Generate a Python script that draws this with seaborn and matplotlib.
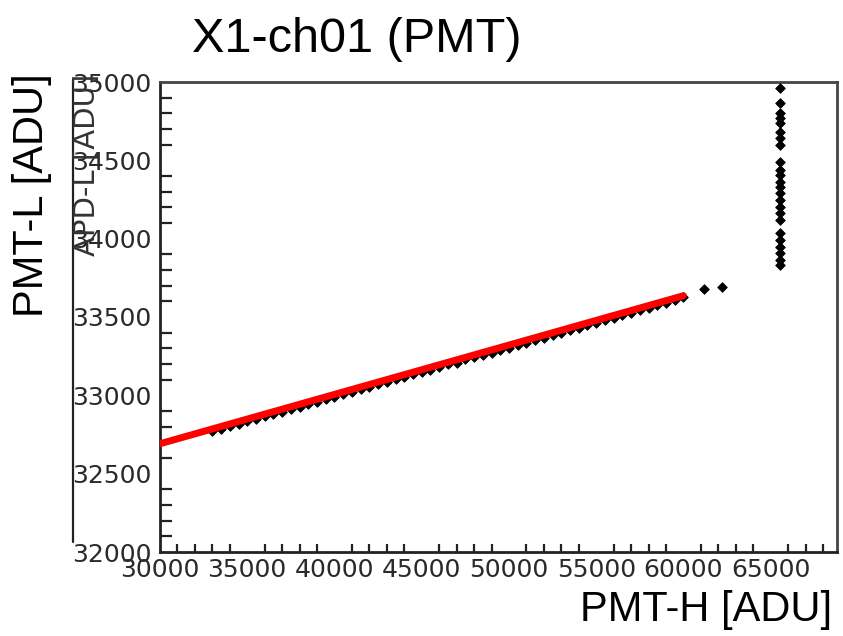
import matplotlib
matplotlib.use("Agg")
import matplotlib.pyplot as plt
from matplotlib.lines import Line2D
from matplotlib.ticker import MultipleLocator
import seaborn as sns
import pandas as pd

# PMT high-gain vs low-gain readout (ADU)
pmt_h = [33000, 33500, 34000, 34500, 35000, 35500, 36000, 36500, 37000, 37500,
         38000, 38500, 39000, 39500, 40000, 40500, 41000, 41500, 42000, 42500,
         43000, 43500, 44000, 44500, 45000, 45500, 46000, 46500, 47000, 47500,
         48000, 48500, 49000, 49500, 50000, 50500, 51000, 51500, 52000, 52500,
         53000, 53500, 54000, 54500, 55000, 55500, 56000, 56500, 57000, 57500,
         58000, 58500, 59000, 59500, 60000, 61200, 62200]
pmt_l = [32772, 32786, 32802, 32814, 32835, 32846, 32866, 32880, 32894, 32915,
         32926, 32944, 32957, 32977, 32990, 33007, 33021, 33041, 33052, 33071,
         33084, 33103, 33114, 33135, 33148, 33164, 33182, 33198, 33209, 33229,
         33243, 33260, 33273, 33292, 33305, 33324, 33336, 33355, 33369, 33386,
         33400, 33419, 33431, 33450, 33462, 33482, 33495, 33512, 33525, 33545,
         33557, 33575, 33589, 33608, 33630, 33676, 33690]

# high-gain channel saturated at 65535
sat_h = 65535
sat_l = [34962, 34866, 34802, 34770, 34738, 34681, 34643, 34598, 34489, 34438,
         34406, 34362, 34330, 34291, 34247, 34202, 34164, 34119, 34036, 33991,
         33947, 33909, 33864, 33832]

# linear fit over the unsaturated range
fit_h = [30000, 60000]
fit_l = [32691, 33636]

points = pd.DataFrame({
    "h": pmt_h + [sat_h] * len(sat_l),
    "l": pmt_l + sat_l,
})
fit = pd.DataFrame({"h": fit_h, "l": fit_l})

sns.set_theme(style="white")
plt.rcParams["font.family"] = ["DejaVu Sans"]

W, H = 843, 636
fig = plt.figure(figsize=(W / 100, H / 100), dpi=100)
ax = fig.add_axes([160 / W, 1 - 552 / H, (837 - 160) / W, (552 - 82) / H])

sns.scatterplot(data=points, x="h", y="l", ax=ax, marker="D", s=24,
                color="black", edgecolor="black", linewidth=0.6, zorder=3)
sns.lineplot(data=fit, x="h", y="l", ax=ax, color="#ff0000", linewidth=5.0,
             zorder=4)

ax.set_xlim(30000, 68800)
ax.set_ylim(32000, 35000)
ax.xaxis.set_major_locator(MultipleLocator(5000))
ax.xaxis.set_minor_locator(MultipleLocator(1000))
ax.yaxis.set_major_locator(MultipleLocator(500))
ax.yaxis.set_minor_locator(MultipleLocator(100))
ax.set_xticks([30000, 35000, 40000, 45000, 50000, 55000, 60000, 65000])
ax.set_xticklabels(["30000", "35000", "40000", "45000", "50000", "55000",
                    "60000", "65000"])

ax.tick_params(axis="y", which="major", direction="in", length=18, width=1.6,
               color="#222222", labelsize=18, labelcolor="#2a2a2a", pad=6)
ax.tick_params(axis="y", which="minor", direction="in", length=8.5, width=1.6,
               color="#222222", left=True)
ax.tick_params(axis="x", which="major", direction="in", length=11, width=1.6,
               color="#222222", labelsize=18, labelcolor="#2a2a2a", pad=4)
ax.tick_params(axis="x", which="minor", direction="in", length=6, width=1.6,
               color="#222222", bottom=True)

for side, sp in ax.spines.items():
    sp.set_visible(True)
    sp.set_linewidth(2.0)
    sp.set_color("#222222" if side in ("left", "bottom") else "#444444")

ax.set_xlabel("")
ax.set_ylabel("")

# axis title left over from the original canvas, printed over the tick labels
fig.text(87 / W, 1 - 74 / H, "APD-L [ADU]", rotation=90, ha="center",
         va="top", fontsize=21, color="#333333")
# left border of the canvas pad
fig.add_artist(Line2D([73 / W, 73 / W], [1 - 80 / H, 1 - 542 / H],
                      color="#222222", linewidth=1.6))

fig.text(357 / W, 1 - 40 / H, "X1-ch01 (PMT)", ha="center", va="center",
         fontsize=35, family=["Liberation Sans"], color="black")
fig.text(32 / W, 1 - 195 / H, "PMT-L [ADU]", rotation=90, ha="center",
         va="center", fontsize=30, family=["Liberation Sans"], color="black")
fig.text(832 / W, 1 - 610 / H, "PMT-H [ADU]", ha="right", va="center",
         fontsize=30, family=["Liberation Sans"], color="black")

fig.savefig("out.png", dpi=100)
